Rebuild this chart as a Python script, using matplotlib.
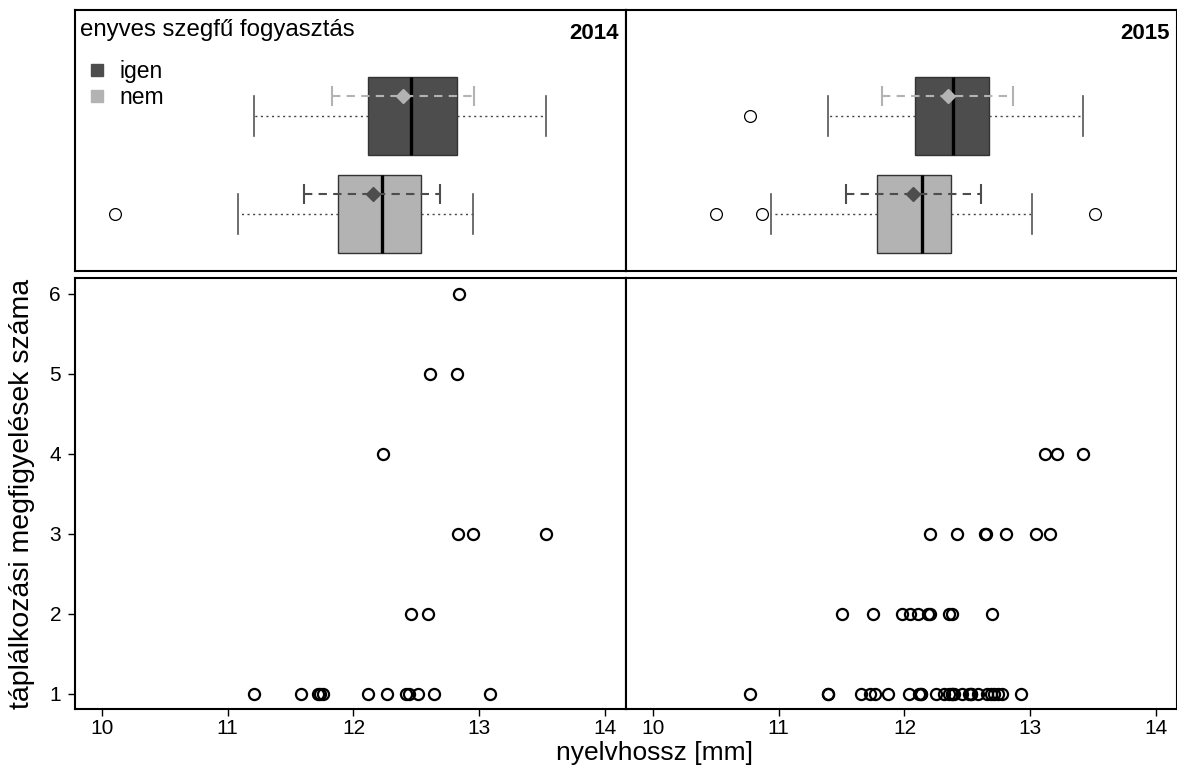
import matplotlib
matplotlib.use("Agg")
import matplotlib.pyplot as plt
from matplotlib.lines import Line2D

plt.rcParams['font.family'] = ['Liberation Sans', 'DejaVu Sans']

# ---------------- data ----------------
years = ["2014", "2015"]
groups = ["igen", "nem"]          # enyves szegfű fogyasztás
legend_title = "enyves szegfű fogyasztás"

# box statistics: whislo, q1, med, q3, whishi
box_2014_igen = [11.21, 12.115, 12.46, 12.826, 13.534]
box_2014_nem = [11.079, 11.876, 12.23, 12.54, 12.95]
box_2015_igen = [11.394, 12.082, 12.383, 12.67, 13.42]
box_2015_nem = [10.935, 11.783, 12.141, 12.369, 13.017]
fliers_2014_igen = []
fliers_2014_nem = [10.106]
fliers_2015_igen = [10.775]
fliers_2015_nem = [10.501, 10.87, 13.513]

# mean and interval (dashed line with diamond)
mean_2014 = [12.397, 12.155]
lo_2014 = [11.833, 11.61]
hi_2014 = [12.96, 12.69]
mean_2015 = [12.344, 12.068]
lo_2015 = [11.82, 11.532]
hi_2015 = [12.865, 12.608]

# scatter: tongue length vs. number of feeding observations
x_2014 = [11.21, 11.58, 11.72, 11.735, 11.76, 12.115, 12.27, 12.42, 12.445, 12.51, 12.64, 13.085,
          12.46, 12.59,
          12.83, 12.95, 13.534,
          12.236,
          12.61, 12.823,
          12.84]
y_2014 = [1] * 12 + [2] * 2 + [3] * 3 + [4] + [5] * 2 + [6]

x_2015 = [10.769, 11.392, 11.396, 11.656, 11.727, 11.766, 11.873, 12.037, 12.118, 12.132, 12.135,
          12.254, 12.318, 12.352, 12.375, 12.378, 12.392, 12.459, 12.515, 12.53, 12.533, 12.583,
          12.654, 12.685, 12.715, 12.741, 12.775, 12.93,
          11.507, 11.746, 11.98, 12.042, 12.107, 12.189, 12.2, 12.358, 12.38, 12.699,
          12.203, 12.414, 12.639, 12.645, 12.808, 13.045, 13.161,
          13.118, 13.211, 13.423]
y_2015 = [1] * 28 + [2] * 10 + [3] * 7 + [4] * 3

x_ticks = [10, 11, 12, 13, 14]
y_ticks = [1, 2, 3, 4, 5, 6]
xlabel = "nyelvhossz [mm]"
ylabel = "táplálkozási megfigyelések száma"

# ---------------- style ----------------
DARK = "#4d4d4d"
LIGHT = "#b3b3b3"
W, H = 1177, 767
XLIM = (9.786, 14.167)

fig = plt.figure(figsize=(W / 100, H / 100), dpi=100)
fig.patch.set_facecolor("white")


def axrect(l, t, r, b):
    return [l / W, 1 - b / H, (r - l) / W, (b - t) / H]


ax_tl = fig.add_axes(axrect(75, 9.5, 626, 271))
ax_tr = fig.add_axes(axrect(626, 9.5, 1177, 271))
ax_bl = fig.add_axes(axrect(75, 278, 626, 709))
ax_br = fig.add_axes(axrect(626, 278, 1177, 709))

for ax in (ax_tl, ax_tr, ax_bl, ax_br):
    for s in ax.spines.values():
        s.set_linewidth(1.5)
        s.set_color("black")
    ax.set_xlim(*XLIM)

boxes = {
    "2014": [(box_2014_igen, fliers_2014_igen), (box_2014_nem, fliers_2014_nem)],
    "2015": [(box_2015_igen, fliers_2015_igen), (box_2015_nem, fliers_2015_nem)],
}
means = {"2014": (mean_2014, lo_2014, hi_2014), "2015": (mean_2015, lo_2015, hi_2015)}
box_cols = [DARK, LIGHT]
mean_cols = [LIGHT, DARK]
positions = [2, 1]

for ax, yr in ((ax_tl, "2014"), (ax_tr, "2015")):
    stats = []
    for (b, fl), g in zip(boxes[yr], groups):
        stats.append(dict(whislo=b[0], q1=b[1], med=b[2], q3=b[3], whishi=b[4], fliers=fl, label=g))
    bp = ax.bxp(stats, positions=positions, orientation="horizontal", widths=0.8,
                capwidths=0.4, patch_artist=True, showfliers=True,
                boxprops=dict(linewidth=1.0, edgecolor="#333333"),
                medianprops=dict(color="black", linewidth=2.4),
                whiskerprops=dict(color="#444444", linewidth=1.0, linestyle=(0, (1.5, 2.5))),
                capprops=dict(color="#555555", linewidth=1.2),
                flierprops=dict(marker="o", markersize=8.5, markerfacecolor="white",
                                markeredgecolor="black", markeredgewidth=0.9))
    for patch, c in zip(bp["boxes"], box_cols):
        patch.set_facecolor(c)
    m, lo, hi = means[yr]
    for i in range(2):
        yy = positions[i] + 0.2
        ax.errorbar([m[i]], [yy], xerr=[[m[i] - lo[i]], [hi[i] - m[i]]], fmt="D",
                    color=mean_cols[i], ms=7, ecolor=mean_cols[i], elinewidth=1.5,
                    capsize=7.2, capthick=1.5, linestyle="none", zorder=5)
    for coll in ax.collections:
        coll.set_linestyle((0, (4, 3)))
    ax.set_ylim(0.418, 3.087)
    ax.set_xticks([])
    ax.set_yticks([])
    ax.text(0.987, 0.91, yr, transform=ax.transAxes, ha="right", va="center",
            fontsize=16, fontweight="bold")

ax_tl.text(0.009, 0.922, legend_title, transform=ax_tl.transAxes, ha="left", va="center",
           fontsize=17.3)
handles = [Line2D([], [], marker="s", linestyle="none", markersize=8, color=c,
                  markeredgecolor=c) for c in box_cols]
leg = ax_tl.legend(handles, groups, loc="upper left", frameon=False, fontsize=16.5,
                   borderaxespad=0.0, borderpad=0.0, handletextpad=0.5,
                   labelspacing=0.12, handlelength=1.0, bbox_to_anchor=(0.019, 0.806))

for ax, xs, ys in ((ax_bl, x_2014, y_2014), (ax_br, x_2015, y_2015)):
    ax.plot(xs, ys, linestyle="none", marker="o", markersize=8, markerfacecolor="none",
            markeredgecolor="black", markeredgewidth=1.6)
    ax.set_ylim(0.81, 6.2)
    ax.set_xticks(x_ticks)
    ax.set_xticklabels([str(t) for t in x_ticks])
    ax.tick_params(axis="x", length=5, width=1, labelsize=15, pad=2)

ax_bl.set_yticks(y_ticks)
ax_bl.set_yticklabels([str(t) for t in y_ticks])
ax_bl.tick_params(axis="y", length=5, width=1, labelsize=15, pad=5)
ax_br.set_yticks([])

fig.text(655 / W, 1 - 753 / H, xlabel, ha="center", va="center", fontsize=19)
fig.text(22 / W, 1 - 494 / H, ylabel, ha="center", va="center", rotation=90, fontsize=20.5)

fig.savefig("out.png", dpi=100, facecolor="white")
